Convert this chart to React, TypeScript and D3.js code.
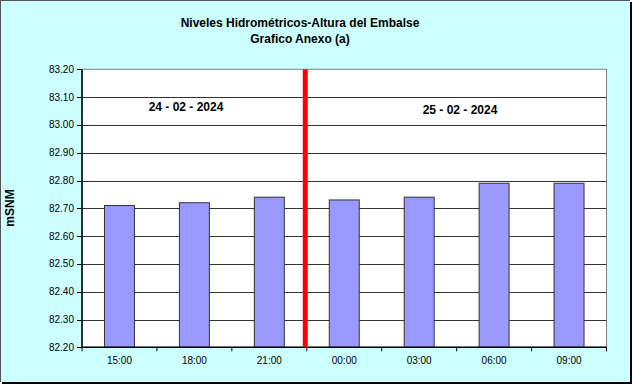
import React from "react";
import * as d3 from "d3";

const categories = ["15:00", "18:00", "21:00", "00:00", "03:00", "06:00", "09:00"];
const values = [82.71, 82.72, 82.74, 82.73, 82.74, 82.79, 82.79];
const yTicks = [82.2, 82.3, 82.4, 82.5, 82.6, 82.7, 82.8, 82.9, 83.0, 83.1, 83.2];
const titleLines = ["Niveles Hidrométricos-Altura del Embalse", "Grafico Anexo (a)"];
const dateLabels = ["24 - 02 - 2024", "25 - 02 - 2024"];
const dividerAfterIndex = 2;

const W = 633;
const H = 387;
const m = { left: 82, right: 606.5, top: 69.3, bottom: 347.3 };
const FONT = "Arial, 'Liberation Sans', sans-serif";

export default function App() {
  const x = d3.scaleBand<string>().domain(categories).range([m.left, m.right]).paddingInner(0.6).paddingOuter(0.3);
  const xb = d3.scaleBand<string>().domain(categories).range([m.left, m.right]);
  const y = d3.scaleLinear().domain([82.2, 83.2]).range([m.bottom, m.top]);
  const dividerX = (xb(categories[dividerAfterIndex])! + xb.bandwidth()) - 1.5;
  const boundaries = d3.range(categories.length + 1).map((i) => m.left + i * xb.bandwidth());

  return (
    <svg width={W} height={H} style={{ position: "absolute", left: 0, top: 0 }}>
      <rect x={0} y={0} width={W} height={H} fill="#ffffff" />
      <rect x={2} y={2} width={630} height={382} fill="#000000" />
      <rect x={0} y={0} width={630} height={382} fill="#ccffff" />
      <line x1={0.5} y1={0} x2={0.5} y2={382} stroke="#555" />
      <line x1={0} y1={0.5} x2={630} y2={0.5} stroke="#555" />

      {titleLines.map((t, i) => (
        <text key={i} x={300} y={27 + i * 16} textAnchor="middle" fontFamily={FONT} fontWeight="bold" fontSize={12}>
          {t}
        </text>
      ))}

      <rect x={m.left} y={m.top} width={m.right - m.left} height={m.bottom - m.top} fill="#ffffff" stroke="#808080" />

      {yTicks.map((t, i) => (
        <g key={i}>
          {i > 0 && i < yTicks.length - 1 && (
            <line x1={m.left} x2={m.right} y1={Math.round(y(t)) + 0.5} y2={Math.round(y(t)) + 0.5} stroke="#333" />
          )}
          <line x1={m.left - 5} x2={m.left} y1={Math.round(y(t)) + 0.5} y2={Math.round(y(t)) + 0.5} stroke="#000" />
          <text x={m.left - 8} y={y(t) + 3.5} textAnchor="end" fontFamily={FONT} fontSize={10}>
            {t.toFixed(2)}
          </text>
        </g>
      ))}

      {values.map((v, i) => (
        <rect
          key={i}
          x={x(categories[i])!}
          y={y(v)}
          width={x.bandwidth()}
          height={m.bottom - y(v)}
          fill="#9999ff"
          stroke="#333"
        />
      ))}

      <line x1={m.left} x2={m.left} y1={m.top} y2={m.bottom} stroke="#000" strokeWidth={1.5} />
      <line x1={m.left} x2={m.right} y1={m.bottom} y2={m.bottom} stroke="#000" strokeWidth={1.5} />
      {boundaries.map((bx, i) => (
        <line key={i} x1={bx} x2={bx} y1={m.bottom} y2={m.bottom + 4} stroke="#000" />
      ))}
      {categories.map((c) => (
        <text key={c} x={xb(c)! + xb.bandwidth() / 2} y={364} textAnchor="middle" fontFamily={FONT} fontSize={10}>
          {c}
        </text>
      ))}

      <rect x={dividerX - 2.5} y={m.top} width={5} height={m.bottom - m.top} fill="#ff0000" />

      <text x={186} y={111} textAnchor="middle" fontFamily={FONT} fontWeight="bold" fontSize={12}>
        {dateLabels[0]}
      </text>
      <text x={460} y={114} textAnchor="middle" fontFamily={FONT} fontWeight="bold" fontSize={12}>
        {dateLabels[1]}
      </text>

      <text
        transform={`translate(14, 208) rotate(-90)`}
        textAnchor="middle"
        fontFamily={FONT}
        fontWeight="bold"
        fontSize={12}
      >
        mSNM
      </text>
    </svg>
  );
}
